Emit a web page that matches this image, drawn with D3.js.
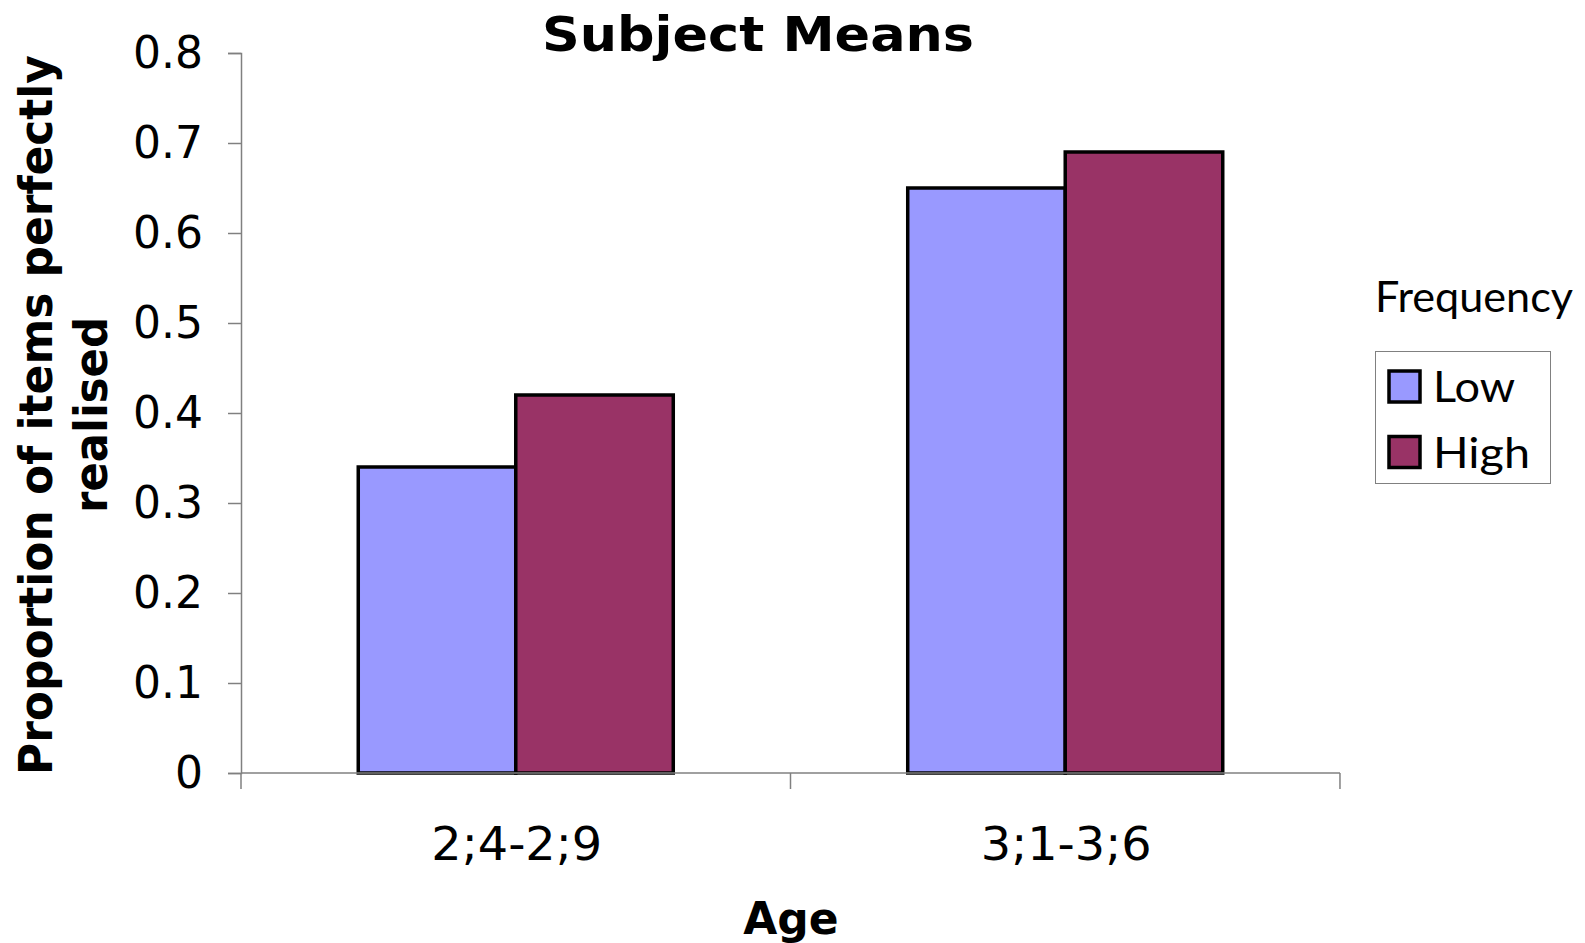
<!DOCTYPE html>
<html><head><meta charset="utf-8">
<script src="https://cdn.jsdelivr.net/npm/d3@7"></script>
<style>body{margin:0;background:#fff}</style>
</head><body>
<script>
const categories = ["2;4-2;9", "3;1-3;6"];
const seriesNames = ["Low", "High"];
const lowValues = [0.34, 0.65];
const highValues = [0.42, 0.69];
const yTicks = [0, 0.1, 0.2, 0.3, 0.4, 0.5, 0.6, 0.7, 0.8];
const colors = ["#9999FF", "#993366"];

(function () {
const W = 1585, H = 943;
const svg = d3.select("body").append("svg").attr("width", W).attr("height", H);
const mLeft = 241, mRight = 1340, mTop = 53, mBottom = 773;
const mainFont = "'DejaVu Sans', Verdana, sans-serif";
const legFont = "Lato, 'Open Sans', sans-serif";

const y = d3.scaleLinear().domain([0, 0.8]).range([mBottom, mTop]);
const x0 = d3.scaleBand().domain(categories).range([mLeft, mRight]).paddingInner(0.4267).paddingOuter(0.2134);
const x1 = d3.scaleBand().domain(seriesNames).range([0, x0.bandwidth()]);

const data = categories.map((c, i) => ({cat: c, vals: [lowValues[i], highValues[i]]}));

// bars
const g = svg.append("g");
data.forEach(d => {
  d.vals.forEach((v, j) => {
    g.append("rect")
      .attr("x", x0(d.cat) + x1(seriesNames[j]))
      .attr("y", y(v))
      .attr("width", x1.bandwidth())
      .attr("height", y(0) - y(v))
      .attr("fill", colors[j])
      .attr("stroke", "#000")
      .attr("stroke-width", 3.5);
  });
});

// y axis
const yAxis = svg.append("g").attr("transform", `translate(${mLeft},0)`)
  .call(d3.axisLeft(y).tickValues(yTicks).tickSize(13).tickPadding(25)
    .tickFormat(d => d === 0 ? "0" : d3.format(".1f")(d)));
yAxis.select(".domain").attr("stroke", "#808080").attr("stroke-width", 1.5);
yAxis.selectAll(".tick line").attr("stroke", "#808080").attr("stroke-width", 1.5);
yAxis.selectAll("text").attr("font-family", mainFont).attr("font-size", 44).attr("fill", "#000");

// x axis line and ticks
const xAxisG = svg.append("g");
xAxisG.append("line").attr("x1", mLeft).attr("x2", mRight).attr("y1", y(0)).attr("y2", y(0))
  .attr("stroke", "#808080").attr("stroke-width", 1.5);
const boundaries = [mLeft, ...categories.map(c => x0(c) + x0.bandwidth() + x0.step() * x0.paddingInner() / 2)];
boundaries.forEach(b => {
  xAxisG.append("line").attr("x1", b).attr("x2", b).attr("y1", y(0)).attr("y2", y(0) + 16)
    .attr("stroke", "#808080").attr("stroke-width", 1.5);
});
categories.forEach(c => {
  svg.append("text").attr("x", x0(c) + x0.bandwidth() / 2 + 1).attr("y", 860)
    .attr("text-anchor", "middle").attr("font-family", mainFont).attr("font-size", 46)
    .attr("textLength", 171).attr("lengthAdjust", "spacingAndGlyphs")
    .text(c);
});

// titles
svg.append("text").attr("x", 758).attr("y", 51).attr("text-anchor", "middle")
  .attr("font-family", mainFont).attr("font-weight", "bold").attr("font-size", 48)
  .attr("textLength", 432).attr("lengthAdjust", "spacingAndGlyphs").text("Subject Means");
svg.append("text").attr("x", 791).attr("y", 934).attr("text-anchor", "middle")
  .attr("font-family", mainFont).attr("font-weight", "bold").attr("font-size", 44).text("Age");
const yl = svg.append("text").attr("transform", "translate(0,415) rotate(-90)")
  .attr("text-anchor", "middle").attr("font-family", mainFont).attr("font-weight", "bold").attr("font-size", 46);
yl.append("tspan").attr("x", 0).attr("y", 52).attr("textLength", 720).attr("lengthAdjust", "spacingAndGlyphs")
  .text("Proportion of items perfectly");
yl.append("tspan").attr("x", 0).attr("y", 107).attr("textLength", 196).attr("lengthAdjust", "spacingAndGlyphs")
  .text("realised");

// legend
svg.append("text").attr("x", 1375).attr("y", 312).attr("font-family", legFont).attr("font-size", 42)
  .attr("textLength", 198).attr("lengthAdjust", "spacingAndGlyphs").text("Frequency");
svg.append("rect").attr("x", 1375.5).attr("y", 351.5).attr("width", 175).attr("height", 132)
  .attr("fill", "#fff").attr("stroke", "#808080").attr("stroke-width", 1);
const legW = [82, 97];
seriesNames.forEach((s, j) => {
  const yy = 371 + j * 65.5;
  svg.append("rect").attr("x", 1389).attr("y", yy).attr("width", 31).attr("height", 31)
    .attr("fill", colors[j]).attr("stroke", "#000").attr("stroke-width", 3.5);
  svg.append("text").attr("x", 1433).attr("y", yy + 31).attr("font-family", legFont).attr("font-size", 43)
    .attr("textLength", legW[j]).attr("lengthAdjust", "spacingAndGlyphs").text(s);
});
})();
</script>
</body></html>
